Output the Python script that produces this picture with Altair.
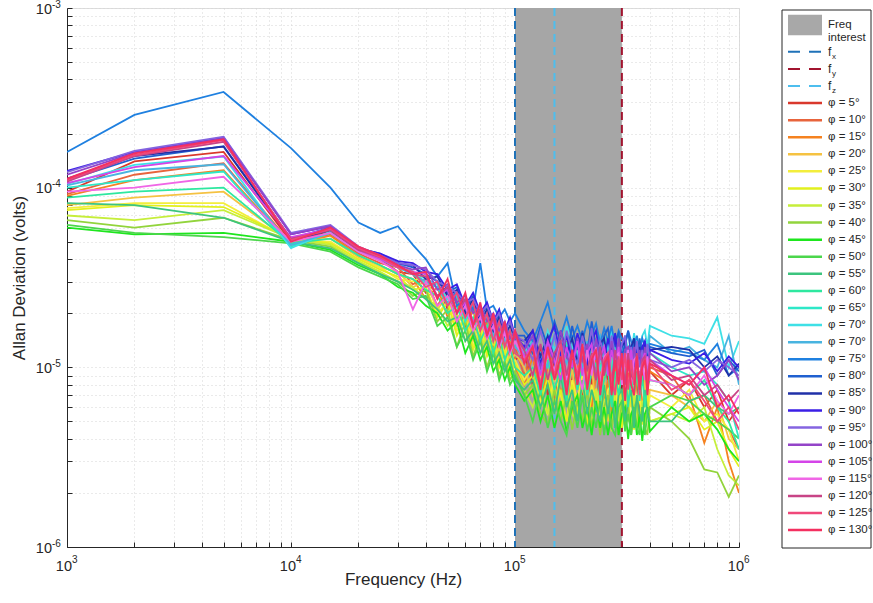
import altair as alt
import pandas as pd

FONT = "Liberation Sans"
INK = "#262626"

# Frequencies in kHz
FREQ_KHZ = [1, 2, 5, 10, 15, 20, 25, 30, 35, 40, 45, 50, 55, 60, 65, 70, 75, 80, 85, 90, 95, 100,
            110, 120, 130, 140, 150, 160, 170, 180, 190, 200, 210, 220, 230, 240, 250, 260, 270, 280,
            290, 300, 310, 320, 330, 340, 350, 360, 370, 380, 390, 400,
            500, 600, 700, 800, 900, 1000]

PHI_LABELS = ["φ = 5°", "φ = 10°", "φ = 15°", "φ = 20°", "φ = 25°", "φ = 30°", "φ = 35°",
              "φ = 40°", "φ = 45°", "φ = 50°", "φ = 55°", "φ = 60°", "φ = 65°", "φ = 70°",
              "φ = 70°", "φ = 75°", "φ = 80°", "φ = 85°", "φ = 90°", "φ = 95°", "φ = 100°",
              "φ = 105°", "φ = 115°", "φ = 120°", "φ = 125°", "φ = 130°"]

LINE_COLORS = ["#d9382c", "#e8643c", "#f58220", "#f5c242", "#f3ee3c", "#e2f01e", "#c6ee3a",
               "#92d43c", "#1ee61e", "#4cd64c", "#3cc47e", "#2ee8a0", "#2ee8c8", "#3ee0e6",
               "#48b4e0", "#1f80e0", "#2060d0", "#2030a8", "#3a1ee6", "#8464e0", "#9444c8",
               "#d444e8", "#f066e6", "#c84486", "#f0487a", "#f43060"]

# Allan deviation, in microvolts, one value per frequency above
PHI_005 = [95, 140, 158, 50, 57,
           44, 40, 34, 33, 26, 30, 21, 25, 17, 22, 15, 19, 13, 17, 12, 15, 11,
           12, 8, 13, 7, 11, 9, 14, 7.5, 10, 6.5, 12, 8, 10.5, 6, 11, 8.5, 7, 12, 6.5, 9.5,
           11, 6, 10, 7.5, 9, 5.5, 10.5, 7, 8.5, 9.5,
           7, 8.5, 6, 7.5, 5, 6]
PHI_010 = [92, 118, 137, 49, 55,
           43, 38, 36, 29, 31, 22, 27, 18, 23, 15, 20, 14, 17, 12, 16, 11, 13,
           9, 13, 7.5, 11, 6.5, 12, 8, 10, 5.5, 11.5, 8.5, 7, 12, 6.5, 9, 10.5, 6, 9.5, 8, 11,
           6.5, 9, 10, 6, 8.5, 9.5, 5.5, 9, 7.5, 10,
           9, 6.5, 7, 5, 4.5, 3.5]
PHI_015 = [90, 110, 125, 48, 54,
           42, 37, 33, 31, 24, 28, 19, 24, 16, 21, 14, 18, 12, 16, 11, 14, 10,
           8, 11.5, 6.5, 10, 12, 7, 9.5, 5.5, 10.5, 8, 11, 6, 9, 10.5, 6.5, 8.5, 5.5, 10, 7.5, 5,
           9.5, 7, 10, 5.5, 9, 7.5, 5, 8.5, 7, 9.5,
           8, 7, 3.8, 6, 3, 2]
PHI_020 = [80, 88, 95, 50, 52,
           41, 36, 34, 28, 30, 21, 25, 17, 21, 14, 18, 13, 15, 11, 14, 10, 12,
           10, 7, 9, 11, 6, 9.5, 6.5, 10, 5.5, 8.5, 7, 10.5, 5.5, 7.5, 9, 5, 8, 9, 5.5, 7.5,
           4.8, 8.5, 6, 8, 5, 7.5, 5.5, 8.5, 6, 7.5,
           7, 6, 5, 6.5, 4, 3.5]
PHI_025 = [77, 82, 82, 51, 50,
           40, 36, 31, 30, 33, 20, 23, 16, 19, 13, 17, 12, 14, 10.5, 13, 9.5, 11,
           8.5, 10, 6.5, 5.5, 9, 7, 5, 8.5, 6.5, 9.5, 5.5, 8, 6, 8.5, 4.8, 7.5, 8, 5.5, 8.5, 5,
           7, 7.5, 4.6, 8, 5.5, 7, 4.8, 7.5, 5.5, 7,
           6, 7.5, 5, 5.5, 4.5, 3]
PHI_030 = [75, 80, 78, 52, 49,
           40, 35, 32, 27, 28, 19, 23, 15, 19, 12.5, 16, 11.5, 14, 10, 12.5, 9, 10.5,
           8, 9, 6, 9, 5.5, 7.5, 5, 8, 5.5, 8.5, 4.8, 7, 7.5, 5, 8, 5.5, 4.6, 7, 7.5, 4.6,
           6.5, 5, 7.5, 4.5, 7, 5, 6.5, 4.6, 7, 5,
           5.5, 6, 4.5, 5, 3.5, 2.8]
PHI_035 = [70, 66, 75, 52, 48,
           39, 34, 30, 28, 24, 22, 17, 20, 14, 17, 12, 15, 10.5, 13, 9.5, 11.5, 9,
           7.5, 6, 8.5, 5.5, 8, 5, 7.5, 5.5, 4.8, 8, 6, 5, 7.5, 4.6, 6.5, 7, 4.4, 6.5, 5, 7.5,
           4.6, 6.5, 4.2, 7, 5, 4.6, 6.5, 4.4, 6.5, 5,
           5.5, 5, 6, 3.5, 2.5, 2.2]
PHI_040 = [66, 60, 68, 51, 47,
           38, 33, 30, 25, 27, 18, 21, 13, 18, 11.5, 15, 10, 13, 9, 11, 8.5, 9.5,
           7, 8, 5.5, 4.8, 7.5, 5, 7, 4.5, 6.5, 5, 7.5, 4.6, 6.5, 4.2, 6, 7, 4.6, 6, 4.2, 6.5,
           4.6, 6, 4.2, 6, 6.5, 4.4, 6, 4.6, 4.2, 6,
           5, 4, 2.7, 2.6, 1.9, 2.5]
PHI_045 = [60, 55, 56, 50, 45,
           37, 33, 28, 26, 22, 20, 16, 18, 12, 15, 11, 13, 9.5, 11, 8.5, 10, 8,
           6.5, 7.5, 5, 7, 4.6, 6.5, 4.4, 6, 7, 4.6, 6, 4.2, 6.5, 4.6, 6, 4.2, 5.5, 6.5, 4.2, 5.5,
           6, 4, 5.5, 6, 4.2, 5.5, 3.9, 5.5, 6, 4.4,
           6, 5, 5.5, 4.5, 3.5, 3]
PHI_050 = [62, 56, 53, 49, 44,
           36, 32, 29, 24, 25, 17, 19, 13, 16, 11, 14, 9.5, 12, 8.5, 10.5, 8, 9,
           7, 5, 7.5, 4.6, 6.5, 5, 4.2, 6.5, 4.6, 7, 4.4, 6, 4.6, 6.5, 4.2, 6, 4.6, 4.2, 6, 6.5,
           4.4, 5.5, 4.2, 6, 4.6, 4.2, 6, 4.2, 5.5, 6,
           7, 6.5, 5.5, 5, 4.5, 4]
PHI_055 = [82, 80, 68, 50, 46,
           38, 33, 30, 27, 24, 21, 18, 19, 14, 16, 12, 14, 10.5, 12, 9.5, 11, 8.5,
           7.5, 8.5, 6, 8, 5.5, 9, 6, 7.5, 5, 8.5, 5.5, 7.5, 6, 5, 8, 5.5, 7.5, 4.6, 7, 7.5,
           5, 6.5, 7.5, 4.6, 7, 5.5, 5, 7.5, 5.5, 5,
           5, 6.5, 7, 6, 5.5, 6]
PHI_060 = [88, 95, 100, 49, 52,
           42, 37, 33, 31, 27, 25, 20, 22, 16, 19, 14, 17, 12, 15, 11, 13, 10,
           9, 10, 7, 11, 7.5, 10, 6.5, 11.5, 7.5, 10, 7, 9.5, 10.5, 6.5, 8.5, 10, 6, 9.5, 7, 9,
           10, 6, 9, 7, 9.5, 6.5, 9, 6, 8, 8.5,
           8, 7, 8.5, 6, 5, 3.5]
PHI_065 = [100, 110, 123, 47, 56,
           44, 40, 36, 33, 29, 28, 22, 25, 18, 22, 16, 19, 14, 17, 13, 15, 12,
           11, 14, 9.5, 13, 15, 10, 13.5, 10.5, 14, 9, 13, 10.5, 14.5, 9.5, 13, 12, 9.5, 13.5, 10.5, 9.5,
           13, 10, 12.5, 9, 12, 13, 9.5, 12.5, 9.5, 12,
           10, 9, 9.5, 8, 6.5, 4]
PHI_070 = [105, 134, 149, 46, 57,
           46, 41, 38, 34, 31, 29, 24, 26, 20, 23, 17, 21, 15, 19, 14, 17, 13,
           12, 15, 11, 16, 12.5, 11.5, 17, 13, 11.5, 15.5, 12, 16, 12.5, 11, 15, 12.5, 16.5, 11.5, 14.5, 12,
           15, 12.5, 11.5, 15.5, 12.5, 12, 15, 16, 13, 17,
           15, 14.5, 13.5, 19, 10, 14]
PHI_070B = [103, 125, 135, 48, 56,
            45, 40, 36, 33, 30, 28, 23, 25, 19, 22, 17, 20, 15, 18, 14, 16, 13,
            11.5, 14, 12, 10, 15, 12, 10.5, 14.5, 11.5, 10, 14, 11, 13.5, 15, 10.5, 12.5, 14, 10, 13.5, 11,
            14, 10.5, 12.5, 14.5, 11, 12.5, 10, 14, 11.5, 15,
            12, 13, 11, 10, 15, 8]
PHI_075 = [158, 254, 341, 166, 100,
           64, 56, 61, 48, 40, 32, 38, 22, 24, 21, 38, 21, 22, 19, 21, 18, 20,
           16, 14, 18, 23, 16, 15, 19, 14.5, 17, 14, 18, 15, 17.5, 13.5, 16.5, 14, 17, 13, 16, 14.5,
           13, 16, 14, 13, 15, 12.5, 14.5, 13, 12.5, 13.5,
           12.5, 12, 11, 13.5, 9, 10]
PHI_080 = [110, 145, 170, 52, 60,
           46, 43, 38, 36, 33, 30, 26, 28, 21, 25, 19, 22, 17, 20, 16, 18, 15,
           15, 12, 17, 13, 18, 14, 11.5, 17, 12.5, 16, 12, 18, 13, 11.5, 15, 16.5, 12, 14, 15.5, 11.5,
           13.5, 16, 11.5, 14, 11, 14.5, 12, 14, 11, 13,
           12, 11.5, 12.5, 9, 11, 9.5]
PHI_085 = [112, 150, 169, 51, 58,
           45, 42, 38, 37, 31, 32, 25, 27, 20, 24, 18, 21, 16, 19, 15, 17, 14.5,
           14, 16, 11.5, 15, 11, 16, 12, 14.5, 10.5, 15.5, 11.5, 15, 11, 13.5, 14.5, 10.5, 13.5, 15, 10.5, 13,
           14, 10, 13, 14.5, 10.5, 13, 10, 13.5, 10.5, 12.5,
           13, 12.5, 10, 11.5, 9, 10.5]
PHI_090 = [124, 158, 190, 55, 61,
           46, 43, 39, 38, 34, 33, 27, 29, 22, 26, 20, 23, 18, 21, 16, 19, 15,
           13, 16, 10.5, 14, 17, 11.5, 15, 11, 15.5, 12.5, 10.5, 14, 16, 11.5, 11, 14.5, 11.5, 15.5, 10.5, 13.5,
           14.5, 11, 13, 10, 13.5, 10.5, 13, 14, 10.5, 12.5,
           11, 10.5, 12, 9.5, 11.5, 10]
PHI_095 = [122, 160, 192, 56, 62,
           47, 42, 38, 37, 35, 30, 28, 26, 23, 24, 20, 22, 18, 20, 16, 18, 15,
           14, 11, 16, 11.5, 15, 10.5, 16, 12, 10.5, 15, 11.5, 16.5, 11, 14, 12, 10.5, 15, 11.5, 10.5, 13.5,
           15, 10.5, 13, 11, 14, 10, 12.5, 10.5, 13.5, 11,
           10, 11, 9.5, 11, 10, 9]
PHI_100 = [118, 156, 188, 55, 61,
           46, 41, 37, 35, 36, 27, 29, 23, 25, 20, 22, 18, 20, 16, 18, 14.5, 16,
           12.5, 15, 10, 13.5, 10.5, 16, 11.5, 10, 14.5, 11, 13.5, 9.5, 14.5, 11, 13, 10, 14, 10.5, 14.5, 10,
           12.5, 13, 9.5, 13, 10.5, 12.5, 9.5, 13, 10, 12,
           9.5, 10, 8, 9, 11, 8.5]
PHI_105 = [106, 130, 150, 53, 59,
           45, 40, 36, 34, 33, 25, 27, 20, 23, 18, 20, 16, 18, 14, 16, 13, 15,
           11.5, 13.5, 9, 14, 11, 8.5, 13, 10, 14, 9, 12, 13.5, 8.5, 11.5, 13, 9, 12.5, 10, 13, 8.5,
           12, 9.5, 12.5, 9, 11.5, 8.5, 11, 12, 9, 11,
           9, 8, 10, 7.5, 6, 5]
PHI_115 = [95, 100, 115, 50, 56,
           44, 39, 34, 21, 30, 22, 25, 18, 22, 16, 19, 14.5, 17, 13, 15.5, 12, 14,
           11, 13, 8, 12, 9.5, 14, 8.5, 12, 9.5, 7.5, 12.5, 9, 13, 8, 11.5, 12, 8, 11.5, 12, 8,
           10.5, 12.5, 8, 11, 11.5, 8, 10.5, 8.5, 11.5, 8.5,
           8, 7, 9, 6.5, 5.5, 7]
PHI_120 = [108, 150, 180, 52, 58,
           45, 41, 37, 33, 32, 25, 28, 20, 24, 17, 21, 15, 19, 13.5, 17, 12.5, 15,
           12.5, 9, 13.5, 8.5, 12, 14, 9, 12.5, 8, 13, 9.5, 12, 8.5, 13, 9, 12, 8, 12.5, 9, 11.5,
           8, 12, 9, 8.5, 12, 8, 11, 11.5, 8.5, 11,
           8.5, 9, 7, 8, 6.5, 7.5]
PHI_125 = [110, 152, 184, 51, 59,
           46, 41, 36, 34, 28, 30, 22, 26, 19, 23, 16, 20, 14, 18, 13, 16, 12,
           11, 13, 8, 12.5, 9, 13.5, 7.5, 12, 9, 13, 8, 11.5, 12.5, 7.5, 11, 12, 8.5, 7, 11.5, 8.5,
           12, 7.5, 11, 8, 11.5, 7, 10.5, 11, 7.5, 10.5,
           7.5, 8.5, 6.5, 5, 6, 4.5]
PHI_130 = [112, 155, 186, 50, 60,
           47, 42, 37, 33, 34, 24, 31, 20, 26, 17, 23, 15, 20, 14, 18, 12.5, 16,
           10.5, 13, 7.5, 13, 8.5, 11.5, 7, 12.5, 8, 13.5, 7.5, 11, 12.5, 7, 10.5, 11.5, 7, 11, 8, 12,
           6.5, 11, 8, 7, 11.5, 7.5, 10, 11, 7, 10.5,
           9, 8, 10, 6, 7, 5.5]

SERIES_UV = [PHI_005, PHI_010, PHI_015, PHI_020, PHI_025, PHI_030, PHI_035, PHI_040, PHI_045,
             PHI_050, PHI_055, PHI_060, PHI_065, PHI_070, PHI_070B, PHI_075, PHI_080, PHI_085,
             PHI_090, PHI_095, PHI_100, PHI_105, PHI_115, PHI_120, PHI_125, PHI_130]

BAND_HZ = (100000, 300000)
Y_DOMAIN = (1e-6, 1e-3)
X_DOMAIN = (1e3, 1e6)
MARKER_HZ = [100000, 300000, 150000]
MARKER_SUB = ["x", "y", "z"]
MARKER_COLORS = ["#1f72b8", "#a2142f", "#4dbeee"]
BAND_LABEL = "Freq\ninterest"
X_TITLE = "Frequency (Hz)"
Y_TITLE = "Allan Deviation (volts)"
# decade tick labels: base "10" with a superscript exponent
X_DECADES = [1e3, 1e4, 1e5, 1e6]
X_EXPONENTS = ["3", "4", "5", "6"]
Y_DECADES = [1e-6, 1e-5, 1e-4, 1e-3]
Y_EXPONENTS = ["-6", "-5", "-4", "-3"]

# ---------------- data tables ----------------
ids = [f"s{i:02d}" for i in range(len(PHI_LABELS))]
rows = []
for sid, lab, vals in zip(ids, PHI_LABELS, SERIES_UV):
    assert len(vals) == len(FREQ_KHZ), (lab, len(vals))
    for f, v in zip(FREQ_KHZ, vals):
        rows.append({"sid": sid, "freq": f * 1000.0, "adev": v * 1e-6})
df = pd.DataFrame(rows)

band_df = pd.DataFrame([{"lo": BAND_HZ[0], "hi": BAND_HZ[1], "ylo": Y_DOMAIN[0], "yhi": Y_DOMAIN[1]}])
marker_df = pd.DataFrame({"hz": MARKER_HZ, "col": MARKER_COLORS, "sub": MARKER_SUB})
xlab_df = pd.DataFrame({"v": X_DECADES, "base": ["10"] * 4, "exp": X_EXPONENTS})
ylab_df = pd.DataFrame({"v": Y_DECADES, "base": ["10"] * 4, "exp": Y_EXPONENTS})

# legend rows (row index -> vertical slot)
ROW_BAND = -1.57
leg_band_df = pd.DataFrame([{"r": ROW_BAND, "rlo": ROW_BAND - 0.6, "rhi": ROW_BAND + 0.6, "text": BAND_LABEL}])
leg_f_df = pd.DataFrame({"r": [0, 1, 2], "col": MARKER_COLORS, "sub": MARKER_SUB, "f": ["f"] * 3})
leg_phi_df = pd.DataFrame({"r": [3 + i for i in range(len(ids))], "sid": ids, "label": PHI_LABELS})
frame_df = pd.DataFrame([{"k": 0}])

x_ticks = [m * 10 ** e for e in range(3, 6) for m in range(1, 10)] + [10 ** 6]
y_ticks = [m * 10.0 ** e for e in range(-6, -3) for m in range(1, 10)] + [1e-3]

axis_common = dict(
    grid=True, gridColor="#d4d4d4", gridDash=[1, 3], gridWidth=1,
    domainColor=INK, domainWidth=1, tickColor=INK, tickWidth=1,
    tickSize=alt.ExprRef(expr="-5"), labels=False,
    titleFont=FONT, titleFontSize=17, titleFontWeight="normal", titleColor=INK,
)
xaxis = alt.Axis(values=x_ticks, title=X_TITLE, titlePadding=24, **axis_common)
yaxis = alt.Axis(values=y_ticks, title=Y_TITLE, titlePadding=38, **axis_common)

xs = alt.Scale(type="log", domain=list(X_DOMAIN), nice=False)
ys = alt.Scale(type="log", domain=list(Y_DOMAIN), nice=False)
color_scale = alt.Scale(domain=ids, range=LINE_COLORS)

band = alt.Chart(band_df).mark_rect(color="#a6a6a6").encode(
    x=alt.X("lo:Q", scale=xs, axis=xaxis), x2="hi",
    y=alt.Y("ylo:Q", scale=ys, axis=yaxis), y2="yhi")

markers = alt.Chart(marker_df).mark_rule(strokeDash=[8, 5], strokeWidth=2).encode(
    x=alt.X("hz:Q", scale=xs, axis=xaxis),
    stroke=alt.Stroke("col:N", scale=None))

lines = alt.Chart(df).mark_line(strokeWidth=1.8, clip=True).encode(
    x=alt.X("freq:Q", scale=xs, axis=xaxis),
    y=alt.Y("adev:Q", scale=ys, axis=yaxis),
    color=alt.Color("sid:N", scale=color_scale, legend=None))

# tick labels drawn as base + superscript exponent
xlab_base = alt.Chart(xlab_df).mark_text(
    align="right", baseline="middle", font=FONT, fontSize=14.5, color=INK, dx=5, dy=20).encode(
    x=alt.X("v:Q", scale=xs, axis=xaxis), y=alt.value(539), text="base:N")
xlab_exp = alt.Chart(xlab_df).mark_text(
    align="left", baseline="middle", font=FONT, fontSize=10, color=INK, dx=5, dy=13).encode(
    x=alt.X("v:Q", scale=xs, axis=xaxis), y=alt.value(539), text="exp:N")
ylab_base = alt.Chart(ylab_df).mark_text(
    align="right", baseline="middle", font=FONT, fontSize=14.5, color=INK, dx=-15, dy=1.5).encode(
    y=alt.Y("v:Q", scale=ys, axis=yaxis), x=alt.value(0), text="base:N")
ylab_exp = alt.Chart(ylab_df).mark_text(
    align="left", baseline="middle", font=FONT, fontSize=10, color=INK, dx=-15, dy=-3.5).encode(
    y=alt.Y("v:Q", scale=ys, axis=yaxis), x=alt.value(0), text="exp:N")

main = alt.layer(band, markers, lines, xlab_base, xlab_exp, ylab_base, ylab_exp)

# ---------------- legend ----------------
ly = alt.Scale(domain=[-2.564, 28.99], reverse=True, nice=False, zero=False)
LX0, LX1, LTX = 721, 755, 761

leg_frame = alt.Chart(frame_df).mark_rect(fill="white", stroke=INK, strokeWidth=1).encode(
    x=alt.value(715), x2=alt.value(804), y=alt.value(2), y2=alt.value(540))

leg_band = alt.Chart(leg_band_df).mark_rect(color="#a8a8a8").encode(
    x=alt.value(LX0), x2=alt.value(LX1),
    y=alt.Y("rlo:Q", scale=ly, axis=None), y2="rhi")
leg_band_text = alt.Chart(leg_band_df).mark_text(
    align="left", baseline="middle", lineBreak="\n", lineHeight=13, font=FONT, fontSize=11.5,
    color=INK).encode(x=alt.value(LTX), y=alt.Y("r:Q", scale=ly, axis=None), text="text:N")

leg_f = alt.Chart(leg_f_df).mark_rule(strokeDash=[12, 9], strokeWidth=2).encode(
    x=alt.value(LX0), x2=alt.value(LX1), y=alt.Y("r:Q", scale=ly, axis=None),
    stroke=alt.Stroke("col:N", scale=None))
leg_f_text = alt.Chart(leg_f_df).mark_text(
    align="left", baseline="middle", font=FONT, fontSize=12, color=INK).encode(
    x=alt.value(LTX), y=alt.Y("r:Q", scale=ly, axis=None), text="f:N")
leg_f_sub = alt.Chart(leg_f_df).mark_text(
    align="left", baseline="middle", font=FONT, fontSize=8, color=INK, dx=4, dy=5).encode(
    x=alt.value(LTX), y=alt.Y("r:Q", scale=ly, axis=None), text="sub:N")

leg_lines = alt.Chart(leg_phi_df).mark_rule(strokeWidth=2.5).encode(
    x=alt.value(LX0), x2=alt.value(LX1), y=alt.Y("r:Q", scale=ly, axis=None),
    color=alt.Color("sid:N", scale=color_scale, legend=None))
leg_text = alt.Chart(leg_phi_df).mark_text(
    align="left", baseline="middle", font=FONT, fontSize=11.5, color=INK).encode(
    x=alt.value(LTX), y=alt.Y("r:Q", scale=ly, axis=None), text="label:N")

legend = alt.layer(leg_frame, leg_band, leg_band_text, leg_f, leg_f_text, leg_f_sub, leg_lines, leg_text)

chart = alt.layer(main, legend).resolve_scale(y="independent").properties(
    width=672, height=539,
    padding={"left": 67, "top": 8, "right": 134, "bottom": 56},
    autosize=alt.AutoSizeParams(type="none"),
).configure_view(stroke=None).configure(background="white")

chart.save("out.html", embed_options={"renderer": "svg", "actions": False})
